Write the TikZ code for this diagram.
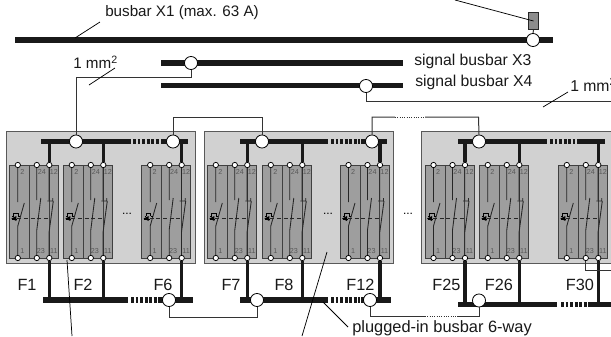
\documentclass[tikz,border=0pt]{standalone}
\usepackage{fontspec}
\setmainfont{Liberation Sans}
\definecolor{panel}{gray}{0.82}
\definecolor{modf}{gray}{0.62}
\definecolor{modl}{gray}{0.25}
\tikzset{
  panelbox/.style={draw=black!65,line width=0.6pt,fill=panel},
  modbox/.style={draw=black!75,line width=0.6pt,fill=modf},
  busbar/.style={line width=4.4pt,black!90},
  tap/.style={line width=2.3pt,black!90},
  wire/.style={line width=0.75pt,black!80},
  leader/.style={line width=0.55pt,black},
  term/.style={circle,draw=black,line width=0.55pt,fill=white,inner sep=0pt,minimum size=4pt},
  joint/.style={circle,draw=black,line width=0.6pt,fill=white,inner sep=0pt,minimum size=9.8pt},
  lbl/.style={inner sep=0pt,font=\fontsize{11.4pt}{13pt}\selectfont,text=black!90},
  lblb/.style={inner sep=0pt,font=\fontsize{11.8pt}{13pt}\selectfont,text=black!90},
  lblc/.style={inner sep=0pt,font=\fontsize{12.3pt}{14pt}\selectfont,text=black!90},
  flbl/.style={inner sep=0pt,font=\fontsize{12.2pt}{14pt}\selectfont,text=black!90},
  pin/.style={inner sep=0pt,font=\fontsize{5.4pt}{6pt}\selectfont,text=black!65},
  sw/.style={line width=0.65pt,black!85},
  dotsbus/.style={line width=4.2pt,black!90,dash pattern=on 2.2pt off 1.2pt},
}
\newcommand{\modul}[2]{%
 \begin{scope}[shift={(#1,0)}]
  \draw[modbox] (0,165) rectangle (49,258);
  \draw[modl,line width=0.6pt] (20,165)--(20,258) (39.7,165)--(39.7,258);
  \node[pin] at (13,172) {2};
  \node[pin] at (32.5,172) {24};
  \node[pin] at (44.5,172) {12};
  \node[pin] at (13,251.5) {1};
  \node[pin] at (31.5,251.5) {23};
  \node[pin] at (44.5,251.5) {11};
  \draw[sw] (8.5,165)--(8.5,202) (8.5,258)--(8.5,226) (8.5,226)--(15,203);
  \draw[sw] (27.5,165)--(27.5,200) (27.5,258)--(27.5,230)--(31.5,198);
  \draw[sw] (39.8,165)--(39.8,200) (38,201)--(43.5,201) (39.8,258)--(39.8,232)--(44,201) (43.5,198)--(43.5,201);
  \draw[sw,densely dashed,line width=0.5pt] (8,218.5)--(41,218.5);
  \draw[line width=0.6pt,black] (2.5,219)--(8,219) (4.5,216)--(4.5,213)--(9,213)--(9,216) (3,216)--(4.5,216) (9,216)--(11,216);
  \fill[black] (2,218.5)--(7,216)--(7,221)--cycle;
  \node[term] (t#2a) at (8.5,165) {};
  \node[term] (t#2b) at (27.5,165) {};
  \node[term] (t#2c) at (40,165) {};
  \node[term] (b#2a) at (8.5,258) {};
  \node[term] (b#2b) at (27.5,258) {};
  \node[term] (b#2c) at (40,258) {};
 \end{scope}}
\begin{document}
\begin{tikzpicture}[x=0.75pt,y=-0.75pt]
\useasboundingbox (0,0) rectangle (611,336);
\clip (0,0) rectangle (611,336);
% panels
\draw[panelbox] (6,131) rectangle (195,263);
\draw[panelbox] (204,131) rectangle (393,263);
\draw[panelbox] (421,131) rectangle (625,263);
% modules
\modul{9.3}{F1}\modul{63.3}{F2}\modul{141.7}{F6}
\modul{207.3}{F7}\modul{262.3}{F8}\modul{340}{F12}
\modul{425}{F25}\modul{479.3}{F26}\modul{558.3}{F30}
% main bars
\draw[busbar] (15,40)--(553,40);
\draw[busbar] (161,63)--(403,63);
\draw[busbar] (161,85.5)--(403,85.5);
% panel bars
\draw[busbar] (41,141.5)--(131,141.5) (161,141.5)--(188,141.5); \draw[dotsbus] (133,141.5)--(160,141.5);
\draw[busbar] (43,300)--(128,300) (158,300)--(193,300); \draw[dotsbus] (131,300)--(157,300);
\draw[busbar] (240,141.5)--(328,141.5) (361,141.5)--(387,141.5); \draw[dotsbus] (331,141.5)--(360,141.5);
\draw[busbar] (240,300)--(328,300) (361,300)--(391,300); \draw[dotsbus] (331,300)--(360,300);
\draw[busbar] (458,141.5)--(547,141.5) (577,141.5)--(605,141.5); \draw[dotsbus] (550,141.5)--(575,141.5);
\draw[busbar] (458,304.5)--(557,304.5) (588,304.5)--(611,304.5); \draw[dotsbus] (561,304.5)--(587,304.5);
% taps
\foreach \t/\x/\y in {F1/49.3/300,F2/103.3/300,F6/181.7/300,F7/247.3/300,F8/302.3/300,F12/380/300,F25/465/304.5,F26/519.3/304.5,F30/598.3/304.5}{
  \draw[tap] (t\t c.north) -- (\x,141.5);
  \draw[tap] (b\t c.south) -- (\x,\y);}
% joints
\node[joint] (jx1) at (533,40) {};
\node[joint] (jx3) at (191,63) {};
\node[joint] (jx4) at (366,86) {};
\node[joint] (j1) at (76,141.5) {};
\node[joint] (j2) at (173,141.5) {};
\node[joint] (j3) at (262,141.5) {};
\node[joint] (j4) at (372,141.5) {};
\node[joint] (j5) at (479,141.5) {};
\node[joint] (k1) at (169,300) {};
\node[joint] (k2) at (257,300) {};
\node[joint] (k3) at (370,300) {};
\node[joint] (k4) at (479,300.5) {};
% wires
\draw[wire] (jx3.south)--(191,77)--(76,77)--(j1.north);
\draw[wire] (jx4.south)--(366,101)--(611,101);
\draw[wire] (j2.north)--(173,117)--(262,117)--(j3.north);
\draw[wire] (j4.north)--(372,117)--(395,117) (425,117)--(478.5,117)--(j5.north);
\draw[wire,densely dotted] (395,117)--(425,117);
\draw[wire] (k1.south)--(169,317)--(257,317)--(k2.south);
\draw[wire] (k3.south)--(370,316)--(425,316) (457,316)--(479,316)--(k4.south);
\draw[wire,densely dotted] (425,316)--(457,316);
\draw[wire] (bF30b.south)--(585.8,270)--(611,270);
% fuse
\node[draw=black!85,line width=0.6pt,fill=black!45,minimum width=8pt,minimum height=13pt,inner sep=0pt] (fu) at (533.5,21) {};
\draw[wire] (fu.south)--(jx1.north);
% section dots
\foreach \x in {127,328,408}{\node[inner sep=0pt,font=\fontsize{9pt}{10pt}\selectfont] at (\x,214) {...};}
% leaders
\draw[leader] (100,22)--(75,38);
\draw[leader] (115,68)--(89,85);
\draw[leader] (568,92)--(543,107);
\draw[leader] (455,0)--(fu.center);
\draw[leader] (67,260)--(72,336);
\draw[leader] (327,252)--(302,336);
\draw[leader] (323,302)--(348,327);
% labels
\node[lbl,anchor=west] at (105,13) {busbar X1 (max. 63 A)};
\node[lbl,anchor=west] at (73,62) {1 mm\textsuperscript{2}};
\node[lblb,anchor=west] at (414,61) {signal busbar X3};
\node[lblb,anchor=west] at (415,82) {signal busbar X4};
\node[lblb,anchor=west] at (570,85) {1 mm\textsuperscript{2}};
\node[lblc,anchor=west] at (352,328.5) {plugged-in busbar 6-way};
\foreach \n/\x in {F1/27,F2/83,F6/163,F7/231,F8/284,F12/360.5,F25/446.5,F26/499,F30/580}{
  \node[flbl] at (\x,285) {\n};}
\end{tikzpicture}
\end{document}
